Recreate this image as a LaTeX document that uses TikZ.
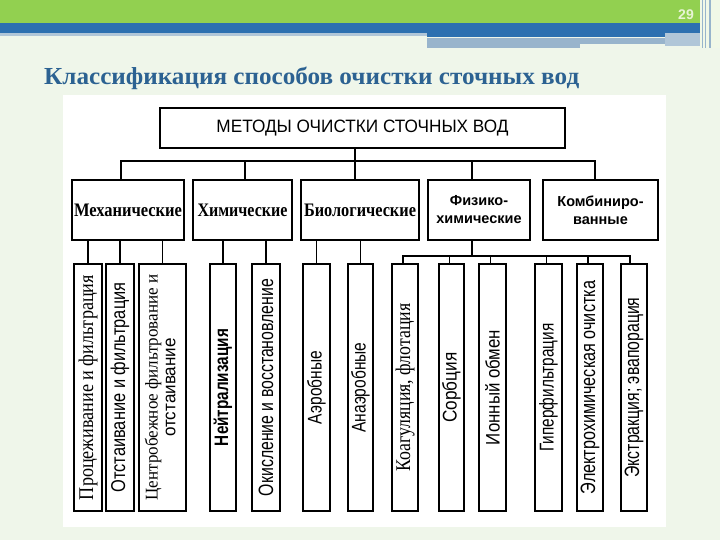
\documentclass[tikz,border=0pt]{standalone}
\usepackage{fontspec}
\setmainfont{Liberation Serif}
\setsansfont{Liberation Sans}
\usetikzlibrary{calc}
\definecolor{bgpale}{RGB}{239,246,234}
\definecolor{topgreen}{RGB}{146,208,80}
\definecolor{topblue}{RGB}{44,112,176}
\definecolor{bandgray}{RGB}{152,180,204}
\definecolor{bandlight}{RGB}{176,198,216}
\definecolor{titleblue}{RGB}{44,98,146}
\definecolor{pagenum}{RGB}{232,244,214}
\newcommand{\vlab}[2]{\rotatebox{90}{\resizebox{#1}{14.5pt}{#2}}}
\begin{document}
\begin{tikzpicture}[x=1pt,y=-1pt,
  box/.style={draw, line width=1.9pt, inner sep=0pt, fill=white, align=center},
  lvthree/.style={box, minimum height=247pt},
  lvtwo/.style={box, minimum height=60pt},
  conn/.style={line width=1.2pt}]
% page background
\useasboundingbox (0,0) rectangle (720,540);
\fill[bgpale] (0,0) rectangle (720,540);
% top decoration
\fill[topgreen] (0,0) rectangle (700,23);
\fill[topblue] (0,23) rectangle (700,33);
\fill[bandlight] (0,33) rectangle (427,36);
\fill[topblue] (427,33) rectangle (700,37);
\fill[bandgray] (427,38) rectangle (667,44);
\fill[bandgray] (427,44) rectangle (580,48);
\fill[bandlight] (665,33) rectangle (700,46);
\fill[pagenum!60!white] (700,0) rectangle (720,48);
\draw[bandgray, line width=1pt] (702,0) -- (702,48);
\draw[bandgray, line width=1pt] (705,0) -- (705,48);
\draw[bandgray, line width=1.5pt] (710,0) -- (710,48);
\node[text=pagenum, font=\sffamily\bfseries\fontsize{14}{16}\selectfont, inner sep=0pt] (pnum) at (686,15) {29};
% title
\node[anchor=base west, inner sep=0pt, text=titleblue,
      font=\bfseries\fontsize{24}{28}\selectfont] (ttl) at (44,85)
  {\resizebox{535pt}{17.5pt}{Классификация способов очистки сточных вод}};
% scanned figure area
\fill[white] (63,95) rectangle (666,527);
% top box
\node[box, minimum width=405pt, minimum height=40pt,
      font=\sffamily\fontsize{17}{20}\selectfont] (top) at (362.5,128)
  {\resizebox{292pt}{12.5pt}{МЕТОДЫ ОЧИСТКИ СТОЧНЫХ ВОД}};
% level two
\node[lvtwo, minimum width=112pt, font=\bfseries\fontsize{16}{18}\selectfont] (mech) at (128,210)
  {\resizebox{108pt}{12.5pt}{Механические}};
\node[lvtwo, minimum width=99pt, font=\bfseries\fontsize{16}{18}\selectfont] (chem) at (242.5,210)
  {\resizebox{90pt}{12.5pt}{Химические}};
\node[lvtwo, minimum width=118pt, font=\bfseries\fontsize{16}{18}\selectfont] (bio) at (360,210)
  {\resizebox{112pt}{12.5pt}{Биологические}};
\node[lvtwo, minimum width=102pt, font=\sffamily\bfseries\fontsize{14.5}{18}\selectfont] (phys) at (479,210)
  {Физико-\\химические};
\node[lvtwo, minimum width=115pt, font=\sffamily\bfseries\fontsize{14.5}{18}\selectfont] (comb) at (600.5,210)
  {Комбиниро-\\ванные};
% level three
\node[lvthree, minimum width=28pt, font=\fontsize{16}{18}\selectfont] (p1) at (88,387.5)
  {\vlab{225pt}{Процеживание и фильтрация}};
\node[lvthree, minimum width=28pt, font=\sffamily\fontsize{16}{18}\selectfont] (p2) at (120,387.5)
  {\vlab{210pt}{Отстаивание и фильтрация}};
\node[lvthree, minimum width=47pt, font=\fontsize{16}{18}\selectfont] (p3) at (162.5,387.5)
  {\rotatebox{90}{\resizebox*{226pt}{38pt}{\begin{tabular}{@{}c@{}}Центробежное фильтрование и\\[-2pt] \sffamily отстаивание\end{tabular}}}};
\node[lvthree, minimum width=26pt, font=\sffamily\bfseries\fontsize{16}{18}\selectfont] (p4) at (223,387.5)
  {\vlab{117pt}{Нейтрализация}};
\node[lvthree, minimum width=28pt, font=\sffamily\fontsize{16}{18}\selectfont] (p5) at (266,387.5)
  {\vlab{217pt}{Окисление и восстановление}};
\node[lvthree, minimum width=27pt, font=\sffamily\fontsize{16}{18}\selectfont] (p6) at (316.5,387.5)
  {\vlab{73pt}{Аэробные}};
\node[lvthree, minimum width=25pt, font=\sffamily\fontsize{16}{18}\selectfont] (p7) at (360.5,387.5)
  {\vlab{90pt}{Анаэробные}};
\node[lvthree, minimum width=26pt, font=\fontsize{16}{18}\selectfont] (p8) at (405,387.5)
  {\vlab{168pt}{Коагуляция, флотация}};
\node[lvthree, minimum width=25pt, font=\sffamily\fontsize{16}{18}\selectfont] (p9) at (451.5,387.5)
  {\vlab{70pt}{Сорбция}};
\node[lvthree, minimum width=27pt, font=\sffamily\fontsize{16}{18}\selectfont] (p10) at (492.5,387.5)
  {\vlab{115pt}{Ионный обмен}};
\node[lvthree, minimum width=27pt, font=\sffamily\fontsize{16}{18}\selectfont] (p11) at (548.5,387.5)
  {\vlab{128pt}{Гиперфильтрация}};
\node[lvthree, minimum width=26pt, font=\sffamily\fontsize{16}{18}\selectfont] (p12) at (590,387.5)
  {\vlab{213pt}{Электрохимическая очистка}};
\node[lvthree, minimum width=26pt, font=\sffamily\fontsize{16}{18}\selectfont] (p13) at (634,387.5)
  {\vlab{180pt}{Экстракция; эвапорация}};
% connectors: top level
\coordinate (bus) at (0,161);
\coordinate (d1) at ([xshift=-7pt]mech.north);
\coordinate (d2) at ([xshift=2.5pt]chem.north);
\coordinate (d3) at ([xshift=-5pt]bio.north);
\coordinate (d4) at ([xshift=-7pt]phys.north);
\coordinate (d5) at ([xshift=-5.5pt]comb.north);
\draw[conn] (d1) -- (d1 |- bus) -- (d5 |- bus) -- (d5);
\draw[conn] (d2 |- bus) -- (d2);
\draw[conn] (d4 |- bus) -- (d4);
\draw[conn] (top.south -| d3) -- (d3);
% connectors: level three
\foreach \a/\b in {mech/p1, mech/p2, mech/p3, chem/p4, chem/p5, bio/p6, bio/p7}
  \draw[conn] (\a.south -| \b.north) -- (\b.north);
\coordinate (bus2) at (0,256);
\coordinate (q8) at ([xshift=-2pt]p8.north);
\coordinate (q9) at ([xshift=-2pt]p9.north);
\coordinate (q10) at ([xshift=-2pt]p10.north);
\coordinate (q11) at ([xshift=-2pt]p11.north);
\coordinate (q12) at ([xshift=-2pt]p12.north);
\coordinate (q13) at ([xshift=-4pt]p13.north);
\draw[conn] ([xshift=-7pt]phys.south) -- ([xshift=-7pt]phys.south |- bus2);
\draw[conn] (q8) -- (q8 |- bus2) -- (q13 |- bus2) -- (q13);
\foreach \q in {q9, q10, q11, q12}
  \draw[conn] (\q |- bus2) -- (\q);
\end{tikzpicture}
\end{document}
